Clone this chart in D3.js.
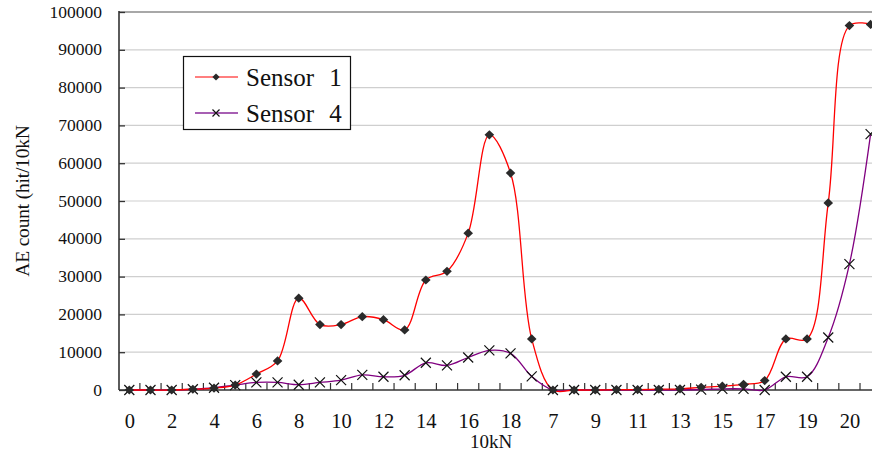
<!DOCTYPE html>
<html><head><meta charset="utf-8">
<script src="https://cdn.jsdelivr.net/npm/d3@7"></script>
<style>html,body{margin:0;padding:0;background:#fff;overflow:hidden}svg{display:block}</style>
</head><body>
<svg id="c" width="872" height="456"></svg>
<script>
const categories = ["0","1","2","3","4","5","6","7","8","9","10","11","12","13","14","15","16","17","18","19",
  "7","8","9","10","11","12","13","14","15","16","17","18","19","19.5","20","20.5"];
const sensor1 = [0,0,0,200,500,1300,4200,7700,24300,17300,17300,19400,18600,15900,29100,31400,41500,67500,57400,13500,
  0,0,0,100,100,200,300,700,1000,1500,2500,13500,13500,49500,96400,96700];
const sensor4 = [0,0,0,200,600,1300,2000,2000,1400,2000,2600,4000,3500,3900,7200,6500,8600,10500,9700,3600,
  0,0,0,0,0,0,0,100,300,300,0,3500,3500,13900,33300,67700];
const yTicks = [0,10000,20000,30000,40000,50000,60000,70000,80000,90000,100000];
const seriesNames = ["Sensor 1","Sensor 4"];

const svg = d3.select("#c");
const font = "'Liberation Serif','Times New Roman',serif";
const x0 = 119, yTop = 12, yBot = 390;
const idx = d3.range(categories.length);
const x = d3.scalePoint().domain(idx).range([129.3, 129.3 + 21.18*(categories.length-1)]);
const step = x.step();
const y = d3.scaleLinear().domain([0,100000]).range([yBot, yTop]);

// gridlines
svg.append("g").selectAll("line").data(yTicks.filter(d=>d>0)).join("line")
  .attr("x1", x0).attr("x2", 872).attr("y1", d=>y(d)).attr("y2", d=>y(d))
  .attr("stroke", d=> d===100000 ? "#a8a8a8" : "#cfcfcf")
  .attr("stroke-width", d=> d===100000 ? 2 : 1.2);

// y axis
const ya = svg.append("g").attr("transform", `translate(${x0},0)`)
  .call(d3.axisRight(y).tickValues(yTicks).tickSize(6).tickFormat(""));
ya.select(".domain").remove();
ya.selectAll("line").attr("stroke","#333").attr("stroke-width",1.3);
svg.append("line").attr("x1",x0).attr("x2",x0).attr("y1",yTop-1).attr("y2",yBot)
  .attr("stroke","#333").attr("stroke-width",1.6);
svg.append("g").selectAll("text").data(yTicks).join("text")
  .attr("x", 102).attr("y", d=>y(d)+5.5).attr("text-anchor","end")
  .attr("font-family", font).attr("font-size", 17.5).attr("fill","#111").text(d=>d);

// x axis line & ticks (between categories, pointing up)
svg.append("line").attr("x1",x0).attr("x2",872).attr("y1",yBot).attr("y2",yBot)
  .attr("stroke","#333").attr("stroke-width",1.6);
svg.append("g").selectAll("line").data(idx).join("line")
  .attr("x1", d=>x(d)+step/2).attr("x2", d=>x(d)+step/2)
  .attr("y1", yBot).attr("y2", yBot-7).attr("stroke","#333").attr("stroke-width",1.2);
const xa = svg.append("g").attr("transform", `translate(0,${yBot})`)
  .call(d3.axisBottom(x).tickValues(idx.filter(i=>i%2===0)).tickSize(0).tickPadding(0)
    .tickFormat(i=>categories[i]));
xa.select(".domain").remove();
xa.selectAll("text").attr("font-family", font).attr("font-size", 20.5).attr("fill","#111")
  .attr("dy", null).attr("y", 38);

// axis titles
svg.append("text").attr("x", 491).attr("y", 448).attr("text-anchor","middle")
  .attr("font-family", font).attr("font-size", 19).attr("fill","#111").text("10kN");
svg.append("text").attr("transform","translate(29,201) rotate(-90)").attr("text-anchor","middle")
  .attr("font-family", font).attr("font-size", 19.5).attr("fill","#111")
  .attr("letter-spacing", -0.2).text("AE count (hit/10kN");

// lines
const line = d3.line().x((d,i)=>x(i)).y(d=>y(d)).curve(d3.curveCatmullRom.alpha(0.5));
svg.append("path").datum(sensor4).attr("d", line).attr("fill","none")
  .attr("stroke","#800080").attr("stroke-width",1.3);
svg.append("path").datum(sensor1).attr("d", line).attr("fill","none")
  .attr("stroke","#ff0000").attr("stroke-width",1.3);

// markers
function diamondPath(w,h){ return `M0,${-h}L${w},0L0,${h}L${-w},0Z`; }
function cross(g, cx, cy, r){
  g.append("path").attr("d", `M${cx-r},${cy-r}L${cx+r},${cy+r}M${cx-r},${cy+r}L${cx+r},${cy-r}`)
    .attr("stroke","#111").attr("stroke-width",1.2).attr("fill","none");
}
const m4 = svg.append("g");
sensor4.forEach((d,i)=>cross(m4, x(i), y(d), 5));
svg.append("g").selectAll("path").data(sensor1).join("path")
  .attr("d", diamondPath(4.8,4.6)).attr("transform",(d,i)=>`translate(${x(i)},${y(d)})`)
  .attr("fill","#2a2a2a");

// legend
const lg = svg.append("g");
lg.append("rect").attr("x",183.5).attr("y",56.5).attr("width",167).attr("height",73)
  .attr("fill","#fff").attr("stroke","#111").attr("stroke-width",1.2);
const ly = [77, 113];
lg.append("line").attr("x1",195).attr("x2",238).attr("y1",ly[0]).attr("y2",ly[0]).attr("stroke","#ff5555").attr("stroke-width",1.6);
lg.append("path").attr("d", diamondPath(3.6,3.4)).attr("transform",`translate(216,${ly[0]})`).attr("fill","#2a2a2a");
lg.append("line").attr("x1",195).attr("x2",238).attr("y1",ly[1]).attr("y2",ly[1]).attr("stroke","#8a2a9a").attr("stroke-width",1.6);
cross(lg, 216, ly[1], 3.5);
lg.selectAll("text.l").data(seriesNames).join("text").attr("class","l")
  .attr("x",246).attr("y",(d,i)=>ly[i]+9).attr("font-family",font).attr("font-size",25)
  .attr("word-spacing", 9).attr("fill","#111").text(d=>d);
</script>
</body></html>
